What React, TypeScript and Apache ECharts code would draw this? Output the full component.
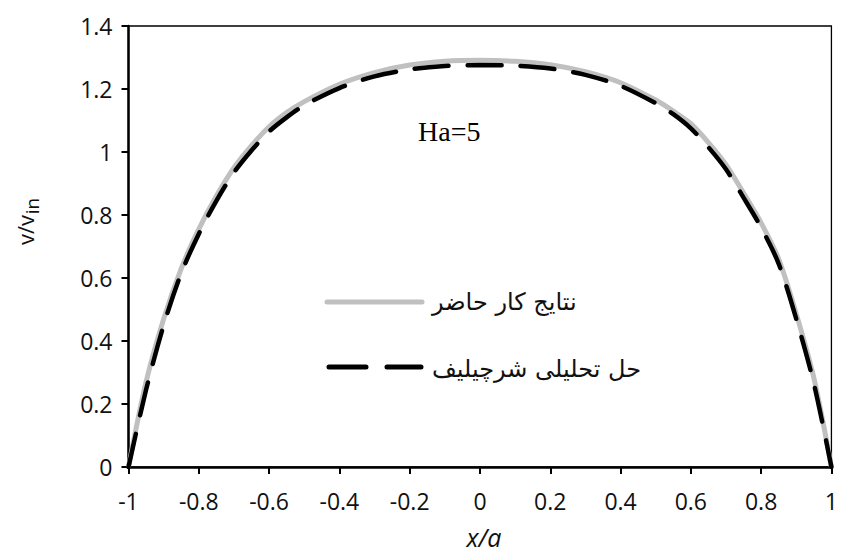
import React, { useEffect, useRef } from "react";
import * as echarts from "echarts";

const xValues = [-1, -0.95, -0.9, -0.85, -0.8, -0.75, -0.7, -0.65, -0.6, -0.55, -0.5, -0.4, -0.3, -0.2, -0.1, 0, 0.1, 0.2, 0.3, 0.4, 0.5, 0.55, 0.6, 0.65, 0.7, 0.75, 0.8, 0.85, 0.9, 0.95, 1];

const presentWork = [0, 0.27, 0.47, 0.63, 0.755, 0.86, 0.95, 1.02, 1.08, 1.125, 1.16, 1.215, 1.252, 1.276, 1.288, 1.291, 1.288, 1.277, 1.255, 1.22, 1.165, 1.13, 1.09, 1.03, 0.96, 0.87, 0.775, 0.66, 0.486, 0.283, 0];

const chebyshev = [0, 0.245, 0.45, 0.615, 0.74, 0.845, 0.935, 1.005, 1.065, 1.11, 1.148, 1.203, 1.24, 1.262, 1.273, 1.276, 1.274, 1.265, 1.245, 1.21, 1.155, 1.12, 1.075, 1.015, 0.945, 0.855, 0.76, 0.645, 0.47, 0.265, 0];

const seriesNames = ["نتایج کار حاضر", "حل تحلیلی شرچیلیف"];
const annotation = "Ha=5";
const xTitle = "x/a";
const yTitleMain = "v/v";
const yTitleSub = "in";

const GRAY = "#c0c0c0";

export default function App() {
  const ref = useRef<HTMLDivElement>(null);
  useEffect(() => {
    if (!ref.current) return;
    const chart = echarts.init(ref.current, null, { renderer: "svg" });
    const sans = "'Open Sans', 'Noto Sans', sans-serif";
    const arabic = "'DejaVu Sans', 'Noto Sans', sans-serif";
    chart.setOption({
      animation: false,
      backgroundColor: "#fff",
      grid: {
        left: 128.5,
        right: 5.5,
        top: 26,
        bottom: 90,
        show: true,
        borderColor: "#000",
        borderWidth: 1.3,
      },
      xAxis: {
        type: "value",
        min: -1,
        max: 1,
        interval: 0.2,
        splitLine: { show: false },
        axisLine: { onZero: false, lineStyle: { color: "#000", width: 2.5 } },
        axisTick: { inside: false, length: 7, lineStyle: { color: "#000", width: 2 } },
        axisLabel: { color: "#111", fontSize: 23, fontFamily: sans, margin: 22 },
      },
      yAxis: {
        type: "value",
        min: 0,
        max: 1.4,
        interval: 0.2,
        splitLine: { show: false },
        axisLine: { show: true, onZero: false, lineStyle: { color: "#000", width: 2.5 } },
        axisTick: { show: true, inside: false, length: 7, lineStyle: { color: "#000", width: 2 } },
        axisLabel: { color: "#111", fontSize: 23, fontFamily: sans, margin: 16 },
      },
      series: [
        {
          name: seriesNames[0],
          type: "line",
          data: xValues.map((x, i) => [x, presentWork[i]]),
          showSymbol: false,
          symbol: "none",
          smooth: 0.3,
          lineStyle: { color: GRAY, width: 5 },
          itemStyle: { color: GRAY },
          z: 2,
        },
        {
          name: seriesNames[1],
          type: "line",
          data: xValues.map((x, i) => [x, chebyshev[i]]),
          showSymbol: false,
          symbol: "none",
          smooth: 0.3,
          lineStyle: { color: "#000", width: 4.5, type: [34, 19], cap: "round" },
          itemStyle: { color: "#000" },
          z: 3,
        },
      ],
      graphic: [
        {
          type: "text",
          x: 418,
          y: 131,
          style: {
            text: annotation,
            fontSize: 28,
            fontFamily: "'Liberation Serif', 'DejaVu Serif', serif",
            fill: "#000",
            align: "left",
            verticalAlign: "middle",
          },
        },
        {
          type: "line",
          shape: { x1: 327, y1: 302, x2: 422, y2: 302 },
          style: { stroke: GRAY, lineWidth: 5, lineCap: "round" },
        },
        {
          type: "text",
          x: 432,
          y: 302,
          style: {
            text: seriesNames[0],
            fontSize: 24,
            fontFamily: arabic,
            fill: "#111",
            align: "left",
            verticalAlign: "middle",
          },
        },
        {
          type: "line",
          shape: { x1: 329, y1: 367, x2: 421, y2: 367 },
          style: { stroke: "#000", lineWidth: 5, lineCap: "round", lineDash: [37, 21] },
        },
        {
          type: "text",
          x: 432,
          y: 369,
          style: {
            text: seriesNames[1],
            fontSize: 24,
            fontFamily: arabic,
            fill: "#111",
            align: "left",
            verticalAlign: "middle",
          },
        },
        {
          type: "text",
          x: 484,
          y: 537,
          style: {
            text: xTitle,
            fontSize: 25,
            fontStyle: "italic",
            fontFamily: sans,
            fill: "#111",
            align: "center",
            verticalAlign: "middle",
          },
        },
        {
          type: "text",
          x: 25,
          y: 230,
          rotation: Math.PI / 2,
          style: {
            text: yTitleMain,
            fontSize: 22,
            fontFamily: sans,
            fill: "#111",
            align: "center",
            verticalAlign: "middle",
          },
        },
        {
          type: "text",
          x: 32,
          y: 206,
          rotation: Math.PI / 2,
          style: {
            text: yTitleSub,
            fontSize: 19,
            fontFamily: sans,
            fill: "#111",
            align: "center",
            verticalAlign: "middle",
          },
        },
      ],
    });
    return () => chart.dispose();
  }, []);
  return <div ref={ref} style={{ position: "fixed", left: 0, top: 0, width: 841, height: 557 }} />;
}
